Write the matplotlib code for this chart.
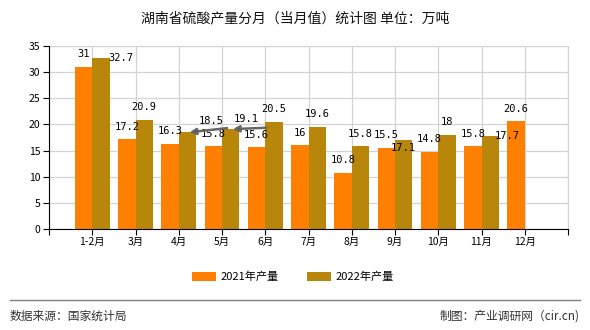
import numpy as np
import matplotlib
matplotlib.use("Agg")
import matplotlib.pyplot as plt

plt.rcParams['font.family'] = ['Noto Sans CJK SC', 'DejaVu Sans']

months = ["1-2月", "3月", "4月", "5月", "6月", "7月", "8月", "9月", "10月", "11月", "12月"]
prod_2021 = [31, 17.2, 16.3, 15.8, 15.6, 16, 10.8, 15.5, 14.8, 15.8, 20.6]
prod_2022 = [32.7, 20.9, 18.5, 19.1, 20.5, 19.6, 15.8, 17.1, 18, 17.7, None]

c21 = "#FF8000"
c22 = "#B8860B"

fig = plt.figure(figsize=(5.9, 3.3), dpi=100)
ax = fig.add_axes([49/590, 1-229/330, 519/590, 183/330])

x = np.arange(1, len(months) + 1)
w = 0.4
ax.bar(x - w/2, prod_2021, w, color=c21, label="2021年产量", zorder=2)
x22 = [xi for xi, v in zip(x, prod_2022) if v is not None]
v22 = [v for v in prod_2022 if v is not None]
ax.bar(np.array(x22) + w/2, v22, w, color=c22, label="2022年产量", zorder=2)

ax.set_xlim(0, 12)
ax.set_ylim(0, 35)
ax.set_yticks(range(0, 36, 5))
ax.set_xticks(range(0, 13))
ax.set_xticklabels([""] + months + [""])
ax.tick_params(axis='both', labelsize=7.5, length=4, color="black", pad=2)
ax.grid(True, color="#d3d3d3", lw=0.9, zorder=0)
for s in ["top", "right"]:
    ax.spines[s].set_color("#d3d3d3")
for s in ["left", "bottom"]:
    ax.spines[s].set_color("black")
    ax.spines[s].set_zorder(3)

lab = dict(ha="center", va="center", fontsize=7.5, family="DejaVu Sans Mono")
# labels sit ~12 px above the bar; a few are pushed aside like in the original
for i, v in enumerate(prod_2021):
    ax.annotate(f"{v:g}", (x[i] - w/2, v), xytext=(0, 9), textcoords="offset points", **lab)
moved22 = {0: (14, 0), 7: (0, -6), 9: (12, 0), 2: (17, 8), 3: (11, 7)}
arrows22 = {2: (27, 3), 3: (24, 1)}
for i, v in enumerate(prod_2022):
    if v is None:
        continue
    dx, dy = moved22.get(i, (0, 9))
    ax.annotate(f"{v:g}", (x[i] + w/2, v), xytext=(dx, dy), textcoords="offset points", **lab)
    if i in arrows22:
        # leader arrow from the label back to the bar top
        ax.annotate("", xy=(x[i] + w/2 + 0.05, v), xycoords="data",
                    xytext=arrows22[i], textcoords="offset points",
                    arrowprops=dict(arrowstyle="-|>", color="#666666", fc="black", lw=1.8,
                                    mutation_scale=9, shrinkA=0, shrinkB=0), zorder=4)

fig.text(295/590, 1-18/330, "湖南省硫酸产量分月（当月值）统计图 单位：万吨", ha="center", va="center",
         fontsize=10, color="#111111")
fig.legend(loc="center", bbox_to_anchor=(293/590, 1-277/330), ncol=2, frameon=False,
           fontsize=8, handlelength=2.2, handleheight=0.8, columnspacing=2.5, handletextpad=0.4)
fig.add_artist(plt.Line2D([10/590, 580/590], [1-300/330, 1-300/330], color="gray", lw=1))
fig.text(10/590, 1-316/330, "数据来源：国家统计局", ha="left", va="center", fontsize=8.5, color="#333333")
fig.text(580/590, 1-316/330, "制图：产业调研网（cir.cn)", ha="right", va="center", fontsize=8.5, color="#333333")

fig.savefig("out.png", dpi=100)
